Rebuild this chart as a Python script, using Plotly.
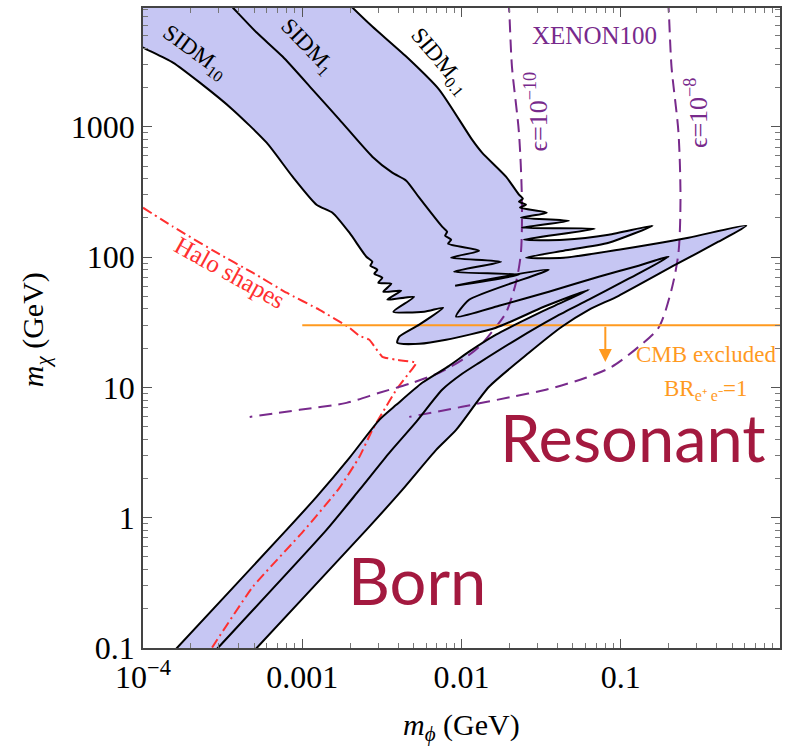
import math
import plotly.graph_objects as go

# ---------------- data (m_phi in GeV, m_chi in GeV) ----------------
# SIDM contour sigma/m = 10 cm^2/g (classical branch -> resonances -> Born branch)
sidm10_phi = [8.05e-5, 1.0e-4, 1.542e-4, 2.275e-4, 3.66e-4, 5.976e-4, 8.694e-4, 1.229e-3, 1.548e-3,
              1.978e-3, 2.527e-3, 2.755e-3, 2.677e-3, 2.961e-3, 2.836e-3, 3.183e-3, 3.004e-3, 3.624e-3,
              3.229e-3, 4.184e-3, 3.420e-3, 5.048e-3, 3.729e-3, 5.831e-3, 7.668e-3, 5.427e-3, 4.065e-3,
              3.949e-3, 5.427e-3, 8.007e-3, 0.01647, 0.03291, 0.06295, 0.03291, 0.01647, 0.01116,
              8.361e-3, 5.665e-3, 3.895e-3, 3.049e-3, 1.978e-3, 1.229e-3, 7.97e-4, 1.633e-4, 1.373e-4]
sidm10_chi = [4680, 4060, 3112, 2183, 1355, 756, 414.5, 252.6, 219.3, 153.9, 100.7, 92.2, 85.9, 80.1,
              74.6, 69.5, 63.6, 62.5, 54.2, 55.2, 47.1, 49.6, 38.1, 38.1, 40.9, 30.3, 24.5, 22.0, 21.6,
              23.2, 28.7, 41.6, 56.2, 38.8, 25.4, 18.8, 14.65, 10.85, 7.35, 5.64, 2.88, 1.445, 0.806,
              0.1, 0.0795]

# SIDM contour sigma/m = 1 cm^2/g
sidm1_phi = [3.263e-4, 3.66e-4, 5.174e-4, 7.525e-4, 1.160e-3, 1.712e-3, 2.755e-3, 3.675e-3, 4.497e-3,
             5.427e-3, 7.557e-3, 8.123e-3, 7.892e-3, 8.607e-3, 8.242e-3, 0.01289, 8.607e-3, 0.01769,
             8.989e-3, 0.02295, 9.12e-3, 0.03535, 0.01116, 9.252e-3, 0.01719, 0.03535, 0.07271, 0.1295,
             0.1995, 0.1121, 0.06295, 0.03913, 0.02197, 0.01289, 0.01009, 7.557e-3, 5.195e-3, 3.521e-3,
             2.285e-3, 1.420e-3, 2.949e-4, 2.480e-4]
sidm1_chi = [9484, 8232, 5290, 3461, 1931, 1136, 590.3, 444.8, 386.3, 285.9, 171.2, 156.7, 146.0,
             136.0, 126.8, 112.0, 98.9, 92.2, 77.3, 73.2, 60.3, 80.1, 47.1, 34.9, 42.3, 54.2, 70.7,
             85.9, 100.7, 68.3, 47.1, 34.9, 23.2, 15.45, 12.72, 9.59, 5.44, 3.146, 1.635, 0.806, 0.1,
             0.0795]

# SIDM contour sigma/m = 0.1 cm^2/g
sidm01_phi = [1.840e-3, 2.065e-3, 2.755e-3, 4.497e-3, 7.237e-3, 0.01165, 0.01346, 0.01903, 0.02295,
              0.02430, 0.02295, 0.02539, 0.02328, 0.03436, 0.02361, 0.04719, 0.02395, 0.06866, 0.02466,
              0.04390, 0.08400, 0.1584, 0.08400, 0.04390, 0.02539, 0.04390, 0.09701, 0.2662, 0.6141,
              0.4102, 0.2207, 0.09701, 0.06295, 0.04265, 0.02651, 0.01489, 9.252e-3, 6.933e-3,
              4.246e-3, 2.527e-3, 5.174e-4, 4.351e-4]
sidm01_chi = [9484, 8232, 5884, 3461, 1931, 797, 633.7, 414.5, 301.6, 280.9, 266.4, 252.6, 239.5,
              219.3, 200.8, 190.4, 168.2, 165.2, 136.0, 136.0, 148.6, 174.3, 129.0, 112.0, 98.9, 98.9,
              114.0, 140.9, 174.3, 131.3, 87.4, 50.5, 39.4, 29.2, 18.44, 10.11, 4.72, 3.317, 1.635,
              0.806, 0.1, 0.0795]

# Halo shapes constraint
halo_phi = [1.0e-4, 1.542e-4, 2.907e-4, 4.884e-4, 7.97e-4, 1.283e-3, 1.978e-3, 2.285e-3, 2.638e-3,
            2.877e-3, 3.183e-3, 3.895e-3, 5.195e-3, 4.697e-3, 3.895e-3, 3.183e-3, 2.755e-3, 2.285e-3,
            1.712e-3, 1.034e-3, 4.884e-4, 2.705e-4, 2.445e-4]
halo_chi = [239.5, 171.2, 108.1, 75.9, 53.3, 39.4, 28.7, 24.9, 23.2, 20.15, 17.18, 16.29, 15.45,
            12.95, 9.59, 6.38, 4.72, 2.931, 1.693, 0.806, 0.294, 0.1, 0.0809]

# XENON100 limits
xe10_phi = [0.01959, 0.01987, 0.02074, 0.02295, 0.02395, 0.02361, 0.02197, 0.01903, 0.01647, 0.01289,
            0.01009, 7.237e-3, 4.905e-3, 3.049e-3, 1.894e-3, 9.618e-4, 4.677e-4]
xe10_chi = [9484, 8232, 2900, 902.6, 276.0, 108.1, 63.6, 37.4, 29.2, 20.5, 16.29, 12.95, 10.85, 9.09,
            7.61, 6.73, 5.94]
xe8_phi = [0.1967, 0.1995, 0.2083, 0.2304, 0.2372, 0.2304, 0.2083, 0.1727, 0.1295, 0.08770, 0.06030,
           0.03386, 0.02074, 0.01009, 4.697e-3]
xe8_chi = [9484, 8232, 2900, 902.6, 276.0, 108.1, 56.2, 28.7, 20.5, 14.39, 11.85, 9.59, 8.47, 7.10,
           5.94]

# CMB bound
cmb_phi = [0.001, 1.2]
cmb_chi = [30, 30]
cmb_arrow_phi = 0.08
cmb_arrow_chi = [30, 15.7]

# axis ticks
x_tickvals = [1e-4, 1e-3, 1e-2, 1e-1, 1]
x_ticktext = ["10<sup>\u22124</sup>", "0.001", "0.01", "0.1", "1"]
y_tickvals = [0.1, 1, 10, 100, 1000]
y_ticktext = ["0.1", "1", "10", "100", "1000"]
x_minor = [m * 10 ** e for e in range(-4, 0) for m in range(2, 10)]
y_minor = [m * 10 ** e for e in range(-1, 4) for m in range(2, 10)]

X_RANGE = [-4, 0]
Y_RANGE = [-1, 3.912]

# ---------------- styles ----------------
SERIF = "Liberation Serif, Times New Roman, serif"
FILL = "#c6c6f3"
PURPLE = "#782a8c"
ORANGE = "#ff9a1f"
RED = "#ff2f2f"
CRIMSON = "#a3193f"
SMOOTH = 0.6

fig = go.Figure()

# shaded band between the sigma/m = 10 and 0.1 contours
corner_phi = 10 ** (X_RANGE[0] - 0.2)
corner_chi = 10 ** (Y_RANGE[1] + 0.2)
band_x = sidm01_phi + sidm10_phi[::-1] + [corner_phi]
band_y = sidm01_chi + sidm10_chi[::-1] + [corner_chi]
fig.add_trace(go.Scatter(x=band_x, y=band_y, mode="lines", fill="toself", fillcolor=FILL,
                         line=dict(width=0, shape="spline", smoothing=SMOOTH), hoverinfo="skip"))

# halo shapes
fig.add_trace(go.Scatter(x=halo_phi, y=halo_chi, mode="lines",
                         line=dict(color=RED, width=2, dash="10px,4px,2px,4px",
                                   shape="spline", smoothing=0.4)))
# XENON100
for px, py in [(xe10_phi, xe10_chi), (xe8_phi, xe8_chi)]:
    fig.add_trace(go.Scatter(x=px, y=py, mode="lines",
                             line=dict(color=PURPLE, width=2, dash="13px,7px",
                                       shape="spline", smoothing=0.8)))
# CMB
fig.add_trace(go.Scatter(x=cmb_phi, y=cmb_chi, mode="lines", line=dict(color=ORANGE, width=2)))

# SIDM contours
for px, py in [(sidm10_phi, sidm10_chi), (sidm1_phi, sidm1_chi), (sidm01_phi, sidm01_chi)]:
    fig.add_trace(go.Scatter(x=px, y=py, mode="lines",
                             line=dict(color="black", width=2, shape="spline", smoothing=SMOOTH)))

L = math.log10


def note(x, y, text, size, color, angle=0, family=SERIF):
    fig.add_annotation(x=L(x), y=L(y), xref="x", yref="y", text=text, showarrow=False,
                       textangle=angle, font=dict(family=family, size=size, color=color),
                       xanchor="center", yanchor="middle")


note(2.132e-4, 3715, "SIDM<sub>10</sub>", 23, "black", 36)
note(1.075e-3, 4095, "SIDM<sub>1</sub>", 23, "black", 46)
note(7.345e-3, 3168, "SIDM<sub>0.1</sub>", 23, "black", 50)
note(0.06866, 5017, "XENON100", 25, PURPLE)
note(0.02973, 1308, "\u03f5=10<sup>\u221210</sup>", 26, PURPLE, -90)
note(0.2987, 1285, "\u03f5=10<sup>\u22128</sup>", 26, PURPLE, -90)
note(0.3450, 17.8, "CMB excluded", 23, ORANGE)
note(0.3401, 9.6, "BR<sub>e\u207a e\u207b</sub>=1", 23, ORANGE)
note(3.506e-4, 75.9, "Halo shapes", 25, RED, 29)
note(0.1187, 4.175, "Resonant", 65, CRIMSON, 0, "Lato, sans-serif")
note(5.272e-3, 0.333, "Born", 65, CRIMSON, 0, "Lato, sans-serif")

# CMB arrow
fig.add_annotation(x=L(cmb_arrow_phi), y=L(cmb_arrow_chi[1]), ax=L(cmb_arrow_phi),
                   ay=L(cmb_arrow_chi[0]), xref="x", yref="y", axref="x", ayref="y", text="",
                   showarrow=True, arrowhead=2, arrowsize=1.3, arrowwidth=2, arrowcolor=ORANGE)

# axis titles
fig.add_annotation(x=0.5, y=-0.1234, xref="paper", yref="paper",
                   text="<i>m</i><sub><i>\u03d5</i></sub> (GeV)", showarrow=False,
                   font=dict(family=SERIF, size=30, color="black"), xanchor="center", yanchor="middle")
fig.add_annotation(x=-0.169, y=0.497, xref="paper", yref="paper",
                   text="<i>m</i><sub><i>\u03c7</i></sub> (GeV)", showarrow=False, textangle=-90,
                   font=dict(family=SERIF, size=30, color="black"), xanchor="center", yanchor="middle")

axis_common = dict(type="log", showgrid=False, zeroline=False, showline=True, mirror="allticks",
                   linecolor="#444444", linewidth=1.5, ticks="inside", ticklen=9, tickwidth=1.2,
                   tickcolor="#555555", tickfont=dict(family=SERIF, size=32, color="black"))

fig.update_xaxes(range=X_RANGE, tickvals=x_tickvals, ticktext=x_ticktext,
                 minor=dict(tickvals=x_minor, ticks="inside", ticklen=5, tickcolor="#777777",
                            showgrid=False), **axis_common)
fig.update_yaxes(range=Y_RANGE, tickvals=y_tickvals, ticktext=y_ticktext,
                 minor=dict(tickvals=y_minor, ticks="inside", ticklen=5, tickcolor="#777777",
                            showgrid=False), **axis_common)

fig.update_layout(width=785, height=749, margin=dict(l=143, r=3, t=8, b=101),
                  paper_bgcolor="white", plot_bgcolor="white", showlegend=False)

fig.write_html("out.html")
